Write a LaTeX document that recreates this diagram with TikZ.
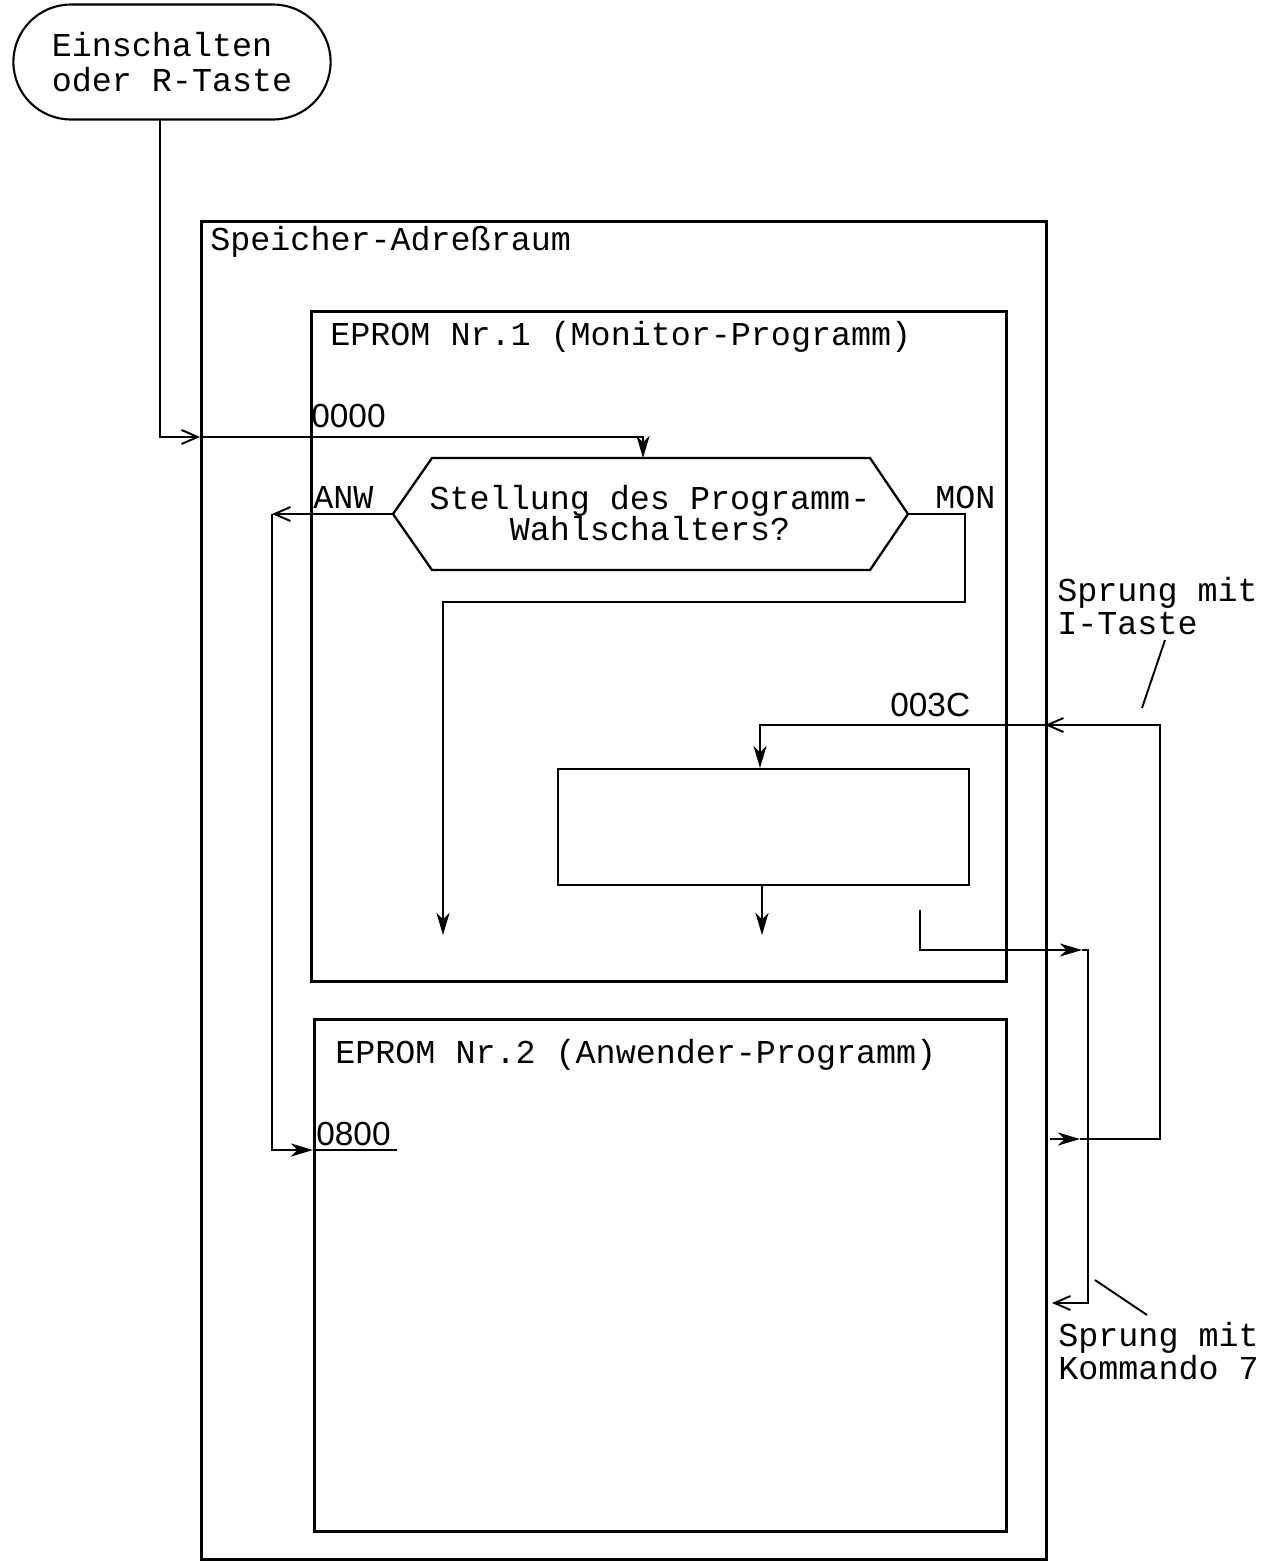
\documentclass[tikz,border=0pt]{standalone}
\usepackage{fontspec}
\setmonofont{Liberation Mono}
\setsansfont{Liberation Sans}
\usetikzlibrary{arrows.meta,shapes.misc}
\begin{document}
\begin{tikzpicture}[x=0.02cm,y=-0.02cm,
  txt/.style={font=\ttfamily\fontsize{19}{19}\selectfont, inner sep=0pt, anchor=west, align=left},
  num/.style={font=\sffamily\fontsize{19}{18}\selectfont, inner sep=0pt, anchor=west},
  box/.style={draw, line width=1.5pt, inner sep=0pt, anchor=north west},
  conn/.style={line width=1.1pt},
  filltip/.style={-{Stealth[length=4.4mm,width=2.6mm,inset=1.3mm]}},
  barbtip/.style={-{Straight Barb[length=3.2mm,width=2.8mm]}},
]
\useasboundingbox (0,0) rectangle (1275,1562);

% start terminal
\node[draw, rounded rectangle, line width=1.2pt, minimum width=6.58cm, minimum height=2.3cm,
  align=left, font=\ttfamily\fontsize{19}{19.5}\selectfont] (start) at (172,62) {Einschalten\\oder R-Taste};

% boxes
\node[box, line width=1.9pt, minimum width=16.9cm, minimum height=26.76cm] (outer) at (200,220) {};
\node[box, minimum width=13.9cm, minimum height=13.4cm] (ep1) at (310,310) {};
\node[box, minimum width=13.84cm, minimum height=10.24cm] (ep2) at (313,1018) {};
\node[box, line width=1.3pt, minimum width=8.22cm, minimum height=2.32cm] (blk) at (557,768) {};

% labels
\node[txt] (lspeicher) at (210,242) {Speicher-Adreßraum};
\node[txt] (lep1) at (330,337) {EPROM Nr.1 (Monitor-Programm)};
\node[txt] (lep2) at (335,1055) {EPROM Nr.2 (Anwender-Programm)};
\node[num] (l0000) at (311,416) {0000};
\node[txt] (lanw) at (313,497) {ANW};
\node[txt] (lmon) at (935,497) {MON};
\node[num] (l003c) at (890,705) {003C};
\node[num] (l0800) at (316,1134) {0800};
\node[txt] (litaste) at (1057,606) {Sprung mit\\I-Taste};
\node[txt] (lkom) at (1058,1351) {Sprung mit\\Kommando 7};

% decision hexagon
\coordinate (hl) at (393,514);
\coordinate (htl) at (432,458);
\coordinate (htr) at (870,458);
\coordinate (hr) at (908,514);
\coordinate (hbr) at (870,570);
\coordinate (hbl) at (432,570);
\coordinate (htop) at (643,458);
\draw[line width=1.3pt] (hl) -- (htl) -- (htr) -- (hr) -- (hbr) -- (hbl) -- cycle;
\node[inner sep=0pt, align=center, font=\ttfamily\fontsize{19}{18}\selectfont] (hex) at (650,513)
  {Stellung des Programm-\\Wahlschalters?};

% coordinates for connectors
\coordinate (s0) at (160,120);
\coordinate (in0000) at (200,437);
\coordinate (anwc) at (272,514);
\coordinate (in0800) at (313,1150);
\coordinate (u0800) at (397,1150);
\coordinate (monc) at (965,602);
\coordinate (mond) at (443,935);
\coordinate (blktop) at (760,768);
\coordinate (blkbot) at (762,884);
\coordinate (blkend) at (762,935);
\coordinate (in003c) at (1045,725);
\coordinate (iright) at (1160,1139);
\coordinate (iout) at (1050,1139);
\coordinate (itip) at (1080,1139);
\coordinate (k0) at (920,910);
\coordinate (ktip) at (1082,950);
\coordinate (kcol) at (1088,950);
\coordinate (kin) at (1052,1303);
\coordinate (la1) at (1165,640);
\coordinate (la2) at (1142,708);
\coordinate (lb1) at (1095,1280);
\coordinate (lb2) at (1147,1315);

% connectors
\draw[conn, barbtip] (s0) |- (in0000);
\draw[conn, filltip] (in0000) -| (htop);
\draw[conn, barbtip] (hl) -- (anwc);
\draw[conn, filltip] (anwc) |- (in0800);
\draw[conn] (in0800) -- (u0800);
\draw[conn, filltip] (hr) -| (monc) -| (mond);
\draw[conn, filltip] (blkbot) -- (blkend);
\draw[conn, filltip] (iout) -- (itip);
\draw[conn, barbtip] (itip) -- (iright) |- (in003c);
\draw[conn, filltip] (in003c) -| (blktop);
\draw[conn, filltip] (k0) |- (ktip);
\draw[conn, barbtip] (ktip) -- (kcol) |- (kin);
\draw[conn] (la1) -- (la2);
\draw[conn] (lb1) -- (lb2);
\end{tikzpicture}
\end{document}
